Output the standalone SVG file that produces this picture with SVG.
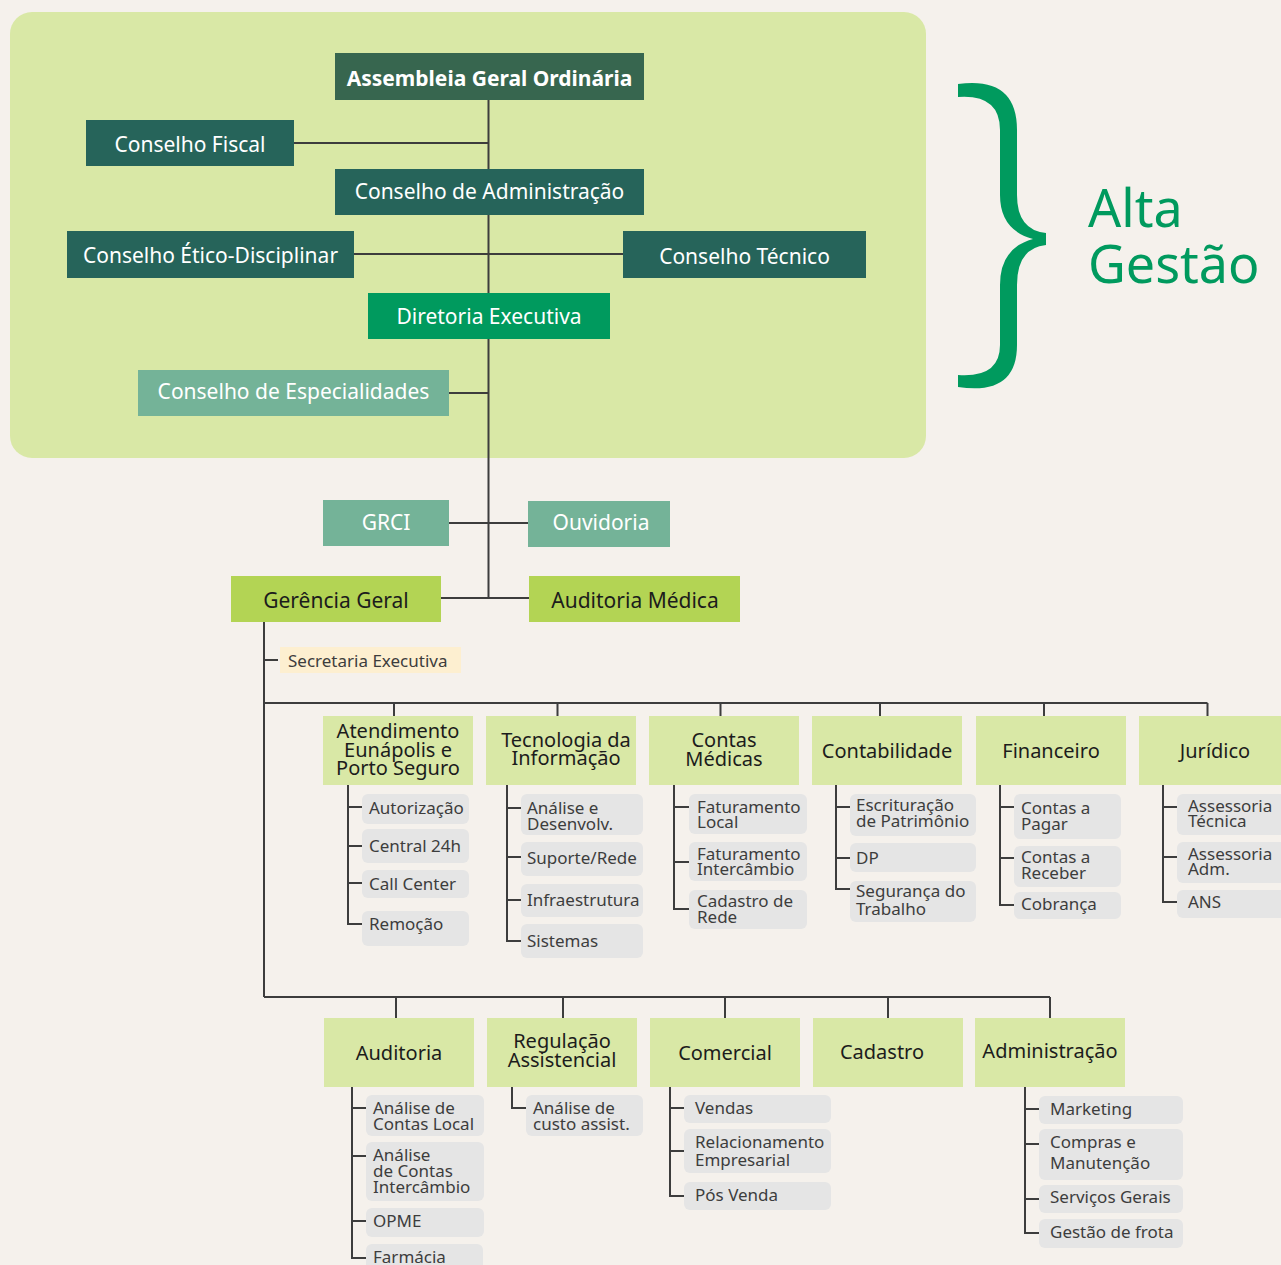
<svg xmlns="http://www.w3.org/2000/svg" width="1281" height="1265" viewBox="0 0 1281 1265">
<style>
text{font-family:"Noto Sans","Open Sans","DejaVu Sans",sans-serif}
.top{font-size:21px;fill:#ffffff;text-anchor:middle}
.dk{fill:#26645a}
.mid{fill:#74b398}
.lime{fill:#b3d454}
.dept{fill:#d9e8a6}
.dt{font-size:20px;fill:#1c1c1c;text-anchor:middle}
.sub{fill:#e5e5e5}
.st{font-size:17px;fill:#3d3d3d}
.ln{stroke:#3d3d3d;stroke-width:2;fill:none}
</style>
<rect x="0" y="0" width="1281" height="1265" fill="#f5f1ec"/>
<rect x="10" y="12" width="916" height="446" rx="22" fill="#d9e8a6"/>

<g id="connectors" class="ln">
<path d="M488.5 100V598"/>
<path d="M294 143H488"/>
<path d="M354 254H623"/>
<path d="M449 393H488"/>
<path d="M449 523H528"/>
<path d="M441 598H529"/>
<path d="M264 622V997"/>
<path d="M264 660H278"/>
<path d="M264 703H1207.5"/>
<path d="M394 703V716M557.5 703V716M720.5 703V716M880 703V716M1044 703V716M1207.5 703V716"/>
<path d="M264 997H1050"/>
<path d="M396 997V1018M563 997V1018M725 997V1018M888 997V1018M1050 997V1018"/>
<path d="M348 785V924H362M348 807H362M348 846H362M348 883H362"/>
<path d="M507 785V941H521M507 808H521M507 857H521M507 900H521"/>
<path d="M674 785V909H689M674 807H689M674 862H689"/>
<path d="M836 785V889H850M836 807H850M836 858H850"/>
<path d="M1000 785V905H1014M1000 807H1014M1000 858H1014"/>
<path d="M1163 785V902H1177M1163 807H1177M1163 857H1177"/>
<path d="M352 1087V1258H366M352 1108H366M352 1156H366M352 1221H366"/>
<path d="M512 1087V1108H526"/>
<path d="M670 1087V1196H684M670 1108H684M670 1151H684"/>
<path d="M1025 1087V1233H1039M1025 1109H1039M1025 1144H1039M1025 1199H1039"/>
</g>

<g id="assembleia"><rect x="335" y="53" width="309" height="47" fill="#37664f"/><text class="top" x="489.5" y="86" font-weight="bold" font-size="19.5">Assembleia Geral Ordinária</text></g>
<g id="conselho-fiscal"><rect class="dk" x="86" y="120" width="208" height="46"/><text class="top" x="190" y="152">Conselho Fiscal</text></g>
<g id="conselho-administracao"><rect class="dk" x="335" y="169" width="309" height="46"/><text class="top" x="489.5" y="199">Conselho de Administração</text></g>
<g id="conselho-etico"><rect class="dk" x="67" y="231" width="287" height="47"/><text class="top" x="210.5" y="263">Conselho Ético-Disciplinar</text></g>
<g id="conselho-tecnico"><rect class="dk" x="623" y="231" width="243" height="47"/><text class="top" x="744.5" y="264">Conselho Técnico</text></g>
<g id="diretoria"><rect x="368" y="293" width="242" height="46" fill="#009a5e"/><text class="top" x="489" y="324">Diretoria Executiva</text></g>
<g id="especialidades"><rect class="mid" x="138" y="370" width="311" height="46"/><text class="top" x="293.5" y="399">Conselho de Especialidades</text></g>

<g id="alta-gestao">
<path d="M958 84Q1017 76 1017 130L1017 195Q1017 230 1046 233L1046 245Q1017 248 1017 285L1017 345Q1017 396 958 387L958 375Q1000 378 1000 345L1000 285Q1000 248 1033 239Q1000 230 1000 195L1000 130Q1000 94 958 97Z" fill="#009a5e"/>
<text font-size="52" fill="#009a5e"><tspan x="1088" y="227">Alta</tspan><tspan x="1088" y="283">Gestão</tspan></text>
</g>

<g id="grci"><rect class="mid" x="323" y="500" width="126" height="46"/><text class="top" x="386" y="530">GRCI</text></g>
<g id="ouvidoria"><rect class="mid" x="528" y="501" width="142" height="46"/><text class="top" x="601" y="530">Ouvidoria</text></g>
<g id="gerencia-geral"><rect class="lime" x="231" y="576" width="210" height="46"/><text class="top" x="336" y="608" style="fill:#1c1c1c">Gerência Geral</text></g>
<g id="auditoria-medica"><rect class="lime" x="529" y="576" width="211" height="46"/><text class="top" x="635" y="608" style="fill:#1c1c1c">Auditoria Médica</text></g>
<g id="secretaria"><rect x="280" y="647" width="181" height="26" fill="#fdefd0"/><text class="st" x="288" y="667">Secretaria Executiva</text></g>

<g id="atendimento">
<rect class="dept" x="323" y="716" width="150" height="69"/>
<text class="dt"><tspan x="398" y="738">Atendimento</tspan><tspan x="398" y="757">Eunápolis e</tspan><tspan x="398" y="775">Porto Seguro</tspan></text>
<rect class="sub" x="362" y="794" width="107" height="30" rx="6"/><text class="st" x="369" y="814">Autorização</text>
<rect class="sub" x="362" y="829" width="107" height="34" rx="6"/><text class="st" x="369" y="852">Central 24h</text>
<rect class="sub" x="362" y="870" width="107" height="28" rx="6"/><text class="st" x="369" y="890">Call Center</text>
<rect class="sub" x="362" y="911" width="107" height="35" rx="6"/><text class="st" x="369" y="930">Remoção</text>
</g>
<g id="tecnologia">
<rect class="dept" x="486" y="716" width="150" height="69"/>
<text class="dt"><tspan x="566" y="747">Tecnologia da</tspan><tspan x="566" y="765">Informação</tspan></text>
<rect class="sub" x="521" y="794" width="122" height="41" rx="6"/><text class="st"><tspan x="527" y="814">Análise e</tspan><tspan x="527" y="830">Desenvolv.</tspan></text>
<rect class="sub" x="521" y="842" width="122" height="34" rx="6"/><text class="st" x="527" y="864">Suporte/Rede</text>
<rect class="sub" x="521" y="884" width="122" height="33" rx="6"/><text class="st" x="527" y="906">Infraestrutura</text>
<rect class="sub" x="521" y="924" width="122" height="34" rx="6"/><text class="st" x="527" y="947">Sistemas</text>
</g>
<g id="contas-medicas">
<rect class="dept" x="649" y="716" width="150" height="69"/>
<text class="dt"><tspan x="724" y="747">Contas</tspan><tspan x="724" y="766">Médicas</tspan></text>
<rect class="sub" x="689" y="794" width="118" height="40" rx="6"/><text class="st"><tspan x="697" y="813">Faturamento</tspan><tspan x="697" y="828">Local</tspan></text>
<rect class="sub" x="689" y="842" width="118" height="39" rx="6"/><text class="st"><tspan x="697" y="860">Faturamento</tspan><tspan x="697" y="875">Intercâmbio</tspan></text>
<rect class="sub" x="689" y="890" width="118" height="39" rx="6"/><text class="st"><tspan x="697" y="907">Cadastro de</tspan><tspan x="697" y="923">Rede</tspan></text>
</g>
<g id="contabilidade">
<rect class="dept" x="812" y="716" width="150" height="69"/>
<text class="dt" x="887" y="758">Contabilidade</text>
<rect class="sub" x="850" y="794" width="126" height="42" rx="6"/><text class="st"><tspan x="856" y="811">Escrituração</tspan><tspan x="856" y="827">de Patrimônio</tspan></text>
<rect class="sub" x="850" y="843" width="126" height="29" rx="6"/><text class="st" x="856" y="864">DP</text>
<rect class="sub" x="850" y="881" width="126" height="41" rx="6"/><text class="st"><tspan x="856" y="897">Segurança do</tspan><tspan x="856" y="915">Trabalho</tspan></text>
</g>
<g id="financeiro">
<rect class="dept" x="976" y="716" width="150" height="69"/>
<text class="dt" x="1051" y="758">Financeiro</text>
<rect class="sub" x="1014" y="794" width="107" height="45" rx="6"/><text class="st"><tspan x="1021" y="814">Contas a</tspan><tspan x="1021" y="830">Pagar</tspan></text>
<rect class="sub" x="1014" y="846" width="107" height="41" rx="6"/><text class="st"><tspan x="1021" y="863">Contas a</tspan><tspan x="1021" y="879">Receber</tspan></text>
<rect class="sub" x="1014" y="892" width="107" height="27" rx="6"/><text class="st" x="1021" y="910">Cobrança</text>
</g>
<g id="juridico">
<rect class="dept" x="1139" y="716" width="150" height="69"/>
<text class="dt" x="1215" y="758">Jurídico</text>
<rect class="sub" x="1177" y="794" width="112" height="41" rx="6"/><text class="st"><tspan x="1188" y="812">Assessoria</tspan><tspan x="1188" y="827">Técnica</tspan></text>
<rect class="sub" x="1177" y="842" width="112" height="41" rx="6"/><text class="st"><tspan x="1188" y="860">Assessoria</tspan><tspan x="1188" y="875">Adm.</tspan></text>
<rect class="sub" x="1177" y="890" width="112" height="28" rx="6"/><text class="st" x="1188" y="908">ANS</text>
</g>

<g id="auditoria">
<rect class="dept" x="324" y="1018" width="150" height="69"/>
<text class="dt" x="399" y="1060">Auditoria</text>
<rect class="sub" x="366" y="1095" width="118" height="41" rx="6"/><text class="st"><tspan x="373" y="1114">Análise de</tspan><tspan x="373" y="1130">Contas Local</tspan></text>
<rect class="sub" x="366" y="1142" width="118" height="59" rx="6"/><text class="st"><tspan x="373" y="1161">Análise</tspan><tspan x="373" y="1177">de Contas</tspan><tspan x="373" y="1193">Intercâmbio</tspan></text>
<rect class="sub" x="366" y="1208" width="118" height="29" rx="6"/><text class="st" x="373" y="1227">OPME</text>
<rect class="sub" x="366" y="1244" width="117" height="30" rx="6"/><text class="st" x="373" y="1263">Farmácia</text>
</g>
<g id="regulacao">
<rect class="dept" x="487" y="1018" width="150" height="69"/>
<text class="dt"><tspan x="562" y="1048">Regulação</tspan><tspan x="562" y="1067">Assistencial</tspan></text>
<rect class="sub" x="526" y="1095" width="117" height="41" rx="6"/><text class="st"><tspan x="533" y="1114">Análise de</tspan><tspan x="533" y="1130">custo assist.</tspan></text>
</g>
<g id="comercial">
<rect class="dept" x="650" y="1018" width="150" height="69"/>
<text class="dt" x="725" y="1060">Comercial</text>
<rect class="sub" x="684" y="1095" width="147" height="28" rx="6"/><text class="st" x="695" y="1114">Vendas</text>
<rect class="sub" x="684" y="1129" width="147" height="44" rx="6"/><text class="st"><tspan x="695" y="1148">Relacionamento</tspan><tspan x="695" y="1166">Empresarial</tspan></text>
<rect class="sub" x="684" y="1182" width="147" height="28" rx="6"/><text class="st" x="695" y="1201">Pós Venda</text>
</g>
<g id="cadastro">
<rect class="dept" x="813" y="1018" width="150" height="69"/>
<text class="dt" x="882" y="1059">Cadastro</text>
</g>
<g id="administracao">
<rect class="dept" x="975" y="1018" width="150" height="69"/>
<text class="dt" x="1050" y="1058">Administração</text>
<rect class="sub" x="1039" y="1096" width="144" height="28" rx="6"/><text class="st" x="1050" y="1115">Marketing</text>
<rect class="sub" x="1039" y="1129" width="144" height="51" rx="6"/><text class="st"><tspan x="1050" y="1148">Compras e</tspan><tspan x="1050" y="1169">Manutenção</tspan></text>
<rect class="sub" x="1039" y="1185" width="144" height="28" rx="6"/><text class="st" x="1050" y="1203">Serviços Gerais</text>
<rect class="sub" x="1039" y="1219" width="144" height="29" rx="6"/><text class="st" x="1050" y="1238">Gestão de frota</text>
</g>
</svg>
